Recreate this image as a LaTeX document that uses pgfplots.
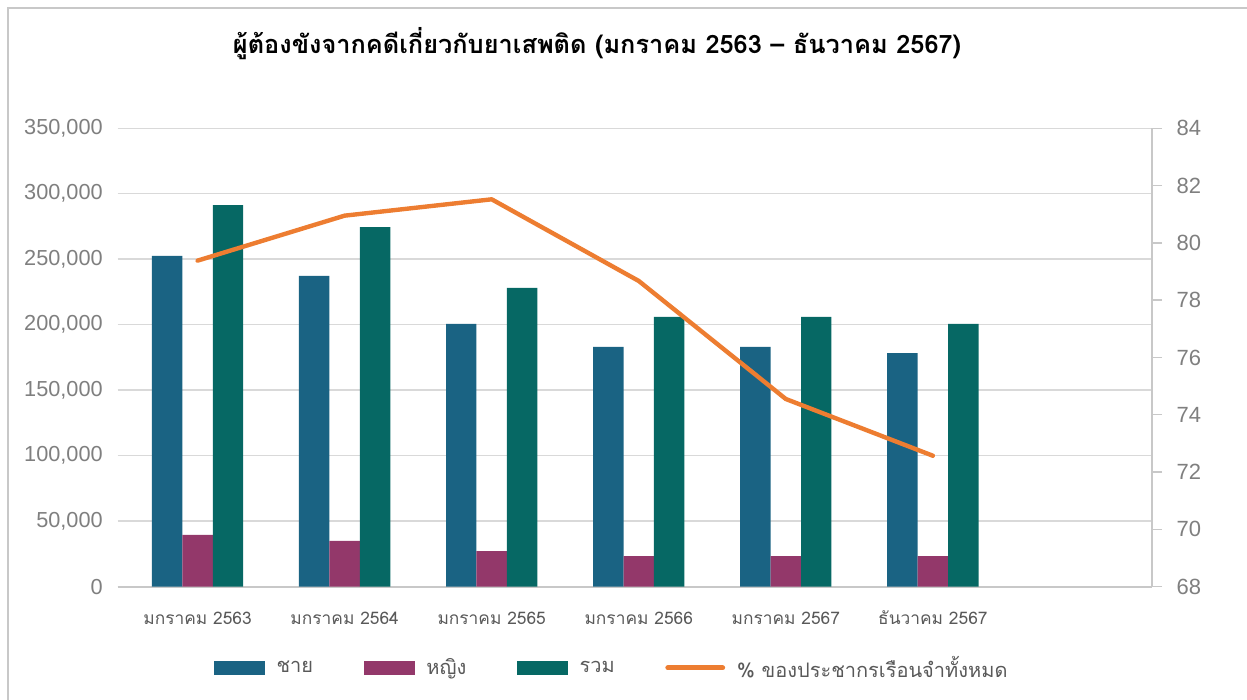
\documentclass[border=0pt]{standalone}
\usepackage{fontspec}
\usepackage{pgfplots}
\usepackage{pgfplotstable}
\pgfplotsset{compat=1.18}
\setmainfont{Liberation Sans}
\newfontfamily\thaifont[Script=Thai]{Loma}

\definecolor{cBlue}{HTML}{1A6383}
\definecolor{cPurple}{HTML}{93386A}
\definecolor{cGreen}{HTML}{066864}
\definecolor{cOrange}{HTML}{ED7D31}
\definecolor{cGrid}{HTML}{D9D9D9}
\definecolor{cAxis}{HTML}{C8C8C8}
\definecolor{cTick}{HTML}{7F7F7F}
\definecolor{cText}{HTML}{595959}

\pgfplotsset{
  swblue/.style={legend image code/.code={\fill[cBlue] (0pt,-4.75pt) rectangle (37.5pt,4.75pt);}},
  swpurple/.style={legend image code/.code={\fill[cPurple] (0pt,-4.75pt) rectangle (37.5pt,4.75pt);}},
  swgreen/.style={legend image code/.code={\fill[cGreen] (0pt,-4.75pt) rectangle (37.5pt,4.75pt);}},
}

% x  male  female  total  percent
\pgfplotstableread{
x chay ying ruam pct
0 252500 39500 291400 79.38
1 237200 34900 274600 80.95
2 200600 27200 228100 81.52
3 183000 23400 206000 78.67
4 183000 23400 206000 74.55
5 178400 23400 200600 72.57
}\data

\begin{document}
\begin{tikzpicture}
\path[use as bounding box] (0,0) rectangle (935.25pt,525pt);
\draw[cAxis, line width=1.5pt] (6pt,-5pt) -- (6pt,519pt) -- (940pt,519pt);

\node[font=\thaifont\bfseries\fontsize{19}{23}\selectfont] at (447.8pt,492pt)
  {ผู้ต้องขังจากคดีเกี่ยวกับยาเสพติด (มกราคม 2563 – ธันวาคม 2567)};

\begin{axis}[
  at={(88.3pt,85pt)}, anchor=south west,
  scale only axis, width=775.7pt, height=343.8pt,
  xmin=-0.543, xmax=6.49, ymin=0, ymax=350000,
  axis x line*=bottom, axis y line*=left,
  y axis line style={draw=none},
  x axis line style={draw=cAxis, line width=1.5pt, -},
  major tick length=0pt,
  xtick={0,1,2,3,4,5},
  xticklabels={มกราคม 2563, มกราคม 2564, มกราคม 2565, มกราคม 2566, มกราคม 2567, ธันวาคม 2567},
  xticklabel style={font=\thaifont\fontsize{13}{15}\selectfont, text=cText, anchor=base, yshift=-28.5pt},
  ytick distance=50000, scaled y ticks=false,
  yticklabel style={font=\fontsize{16.3}{18}\selectfont, text=cTick},
  yticklabel shift=7.7pt,
  ymajorgrids, grid style={cGrid, line width=1.1pt},
  /pgf/number format/fixed,
  /pgf/number format/1000 sep={,},
  /pgf/number format/assume math mode=true,
]
\addplot[ybar, bar width=0.207, bar shift=-0.207, fill=cBlue, draw=none] table[x=x, y=chay] {\data};
\addplot[ybar, bar width=0.207, bar shift=0, fill=cPurple, draw=none] table[x=x, y=ying] {\data};
\addplot[ybar, bar width=0.207, bar shift=0.207, fill=cGreen, draw=none] table[x=x, y=ruam] {\data};
\end{axis}

\begin{axis}[
  at={(88.3pt,85pt)}, anchor=south west,
  scale only axis, width=775.7pt, height=343.8pt,
  xmin=-0.543, xmax=6.49, ymin=68, ymax=84,
  axis x line=none, axis y line*=right,
  y axis line style={draw=cAxis, line width=1pt, -},
  ytick distance=2, tick align=outside, major tick length=7.5pt,
  ytick style={draw=cAxis, line width=1pt},
  yticklabel style={font=\fontsize{16.5}{18}\selectfont, text=cTick, anchor=west},
  yticklabel shift=7.5pt,
  /pgf/number format/fixed,
  /pgf/number format/assume math mode=true,
  legend columns=4,
  legend cell align=left,
  legend style={at={(0.478,-0.177)}, anchor=center, draw=none, fill=none,
    font=\thaifont\fontsize{15}{17}\selectfont, text=cText,
    /tikz/every odd column/.append style={column sep=7pt},
    /tikz/every even column/.append style={column sep=36pt}},
]
\addlegendimage{swblue}\addlegendentry{ชาย}
\addlegendimage{swpurple}\addlegendentry{หญิง}
\addlegendimage{swgreen}\addlegendentry{รวม}
\addplot[cOrange, line width=3.3pt, line join=round, line cap=round,
  legend image code/.code={\draw[cOrange, line width=3.75pt, line cap=round] (1.9pt,0pt) -- (43pt,0pt);}]
  table[x=x, y=pct] {\data};
\addlegendentry{\% ของประชากรเรือนจำทั้งหมด}
\end{axis}
\end{tikzpicture}
\end{document}
